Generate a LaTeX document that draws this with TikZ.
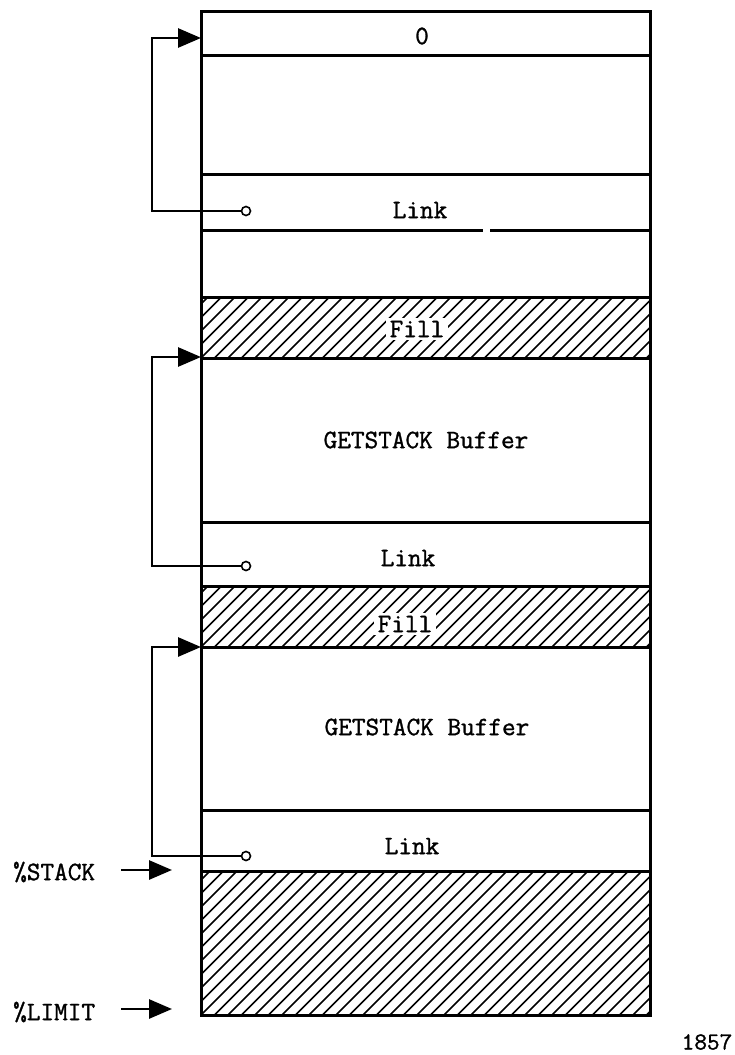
\documentclass[tikz,border=0pt]{standalone}
\usepackage{fontspec}
\usetikzlibrary{arrows.meta}
\newfontfamily\labelfont{Latin Modern Mono}[FakeBold=1.2]
\begin{document}
\begin{tikzpicture}[x=1pt,y=-1pt,
  every node/.style={font=\labelfont\fontsize{26.5}{30}\selectfont, inner sep=0pt},
  boxline/.style={line width=3pt},
  hatchline/.style={line width=1.5pt},
  loopline/.style={line width=2.8pt, -{Triangle[length=23pt,width=19pt]}},
  ptrline/.style={line width=2.8pt, -{Triangle[length=23pt,width=19pt]}},
  linkdot/.style={circle, draw, line width=1.6pt, fill=white, minimum size=9pt, inner sep=0pt},
  filllabel/.style={fill=white, inner xsep=4pt, inner ysep=3pt}
]
\useasboundingbox (0,0) rectangle (735,1055);

% hatched regions
\foreach \ya/\yb in {297/358, 586/647, 871/1015}{
  \begin{scope}
    \clip (201,\ya) rectangle (650,\yb);
    \foreach \k in {-12,...,50}{
      \draw[hatchline] ({201+\k*13.5},\yb) -- ++(160,-160);
    }
  \end{scope}
}

% outer box
\draw[boxline] (201,11) rectangle (650,1015);
% separators
\foreach \yy in {55,174,297,358,522,586,647,810,871}{
  \draw[boxline] (201,\yy) -- (650,\yy);
}
\draw[boxline] (201,230) -- (483,230);
\draw[boxline] (490,230) -- (650,230);

% labels
\node (zero) at (422,36) {0};
\node (link1) at (420,210) {Link};
\node[filllabel] (fill1) at (417,329) {Fill};
\node (buf1) at (426,440) {GETSTACK Buffer};
\node (link2) at (408,558) {Link};
\node[filllabel] (fill2) at (405,624) {Fill};
\node (buf2) at (427,727) {GETSTACK Buffer};
\node (link3) at (412,846) {Link};

% targets on box edge
\coordinate (t1) at (201,38);
\coordinate (t2) at (201,357);
\coordinate (t3) at (201,647);

% link dots
\node[linkdot] (c1) at (246,211) {};
\node[linkdot] (c2) at (246,566) {};
\node[linkdot] (c3) at (246,856) {};

% link pointers
\draw[loopline] (c1.west) -- (152,211) |- (t1);
\draw[loopline] (c2.west) -- (152,566) |- (t2);
\draw[loopline] (c3.west) -- (152,856) |- (t3);

% left pointers
\node[anchor=west] (stack) at (13,872) {\%STACK};
\node[anchor=west] (limit) at (13,1012) {\%LIMIT};
\coordinate (sa) at (121,870);
\coordinate (sb) at (172,870);
\coordinate (la) at (121,1009);
\coordinate (lb) at (172,1009);
\draw[ptrline] (sa) -- (sb);
\draw[ptrline] (la) -- (lb);

\node[font=\labelfont\fontsize{24.5}{28}\selectfont] (fig) at (707,1042) {1857};
\end{tikzpicture}
\end{document}
